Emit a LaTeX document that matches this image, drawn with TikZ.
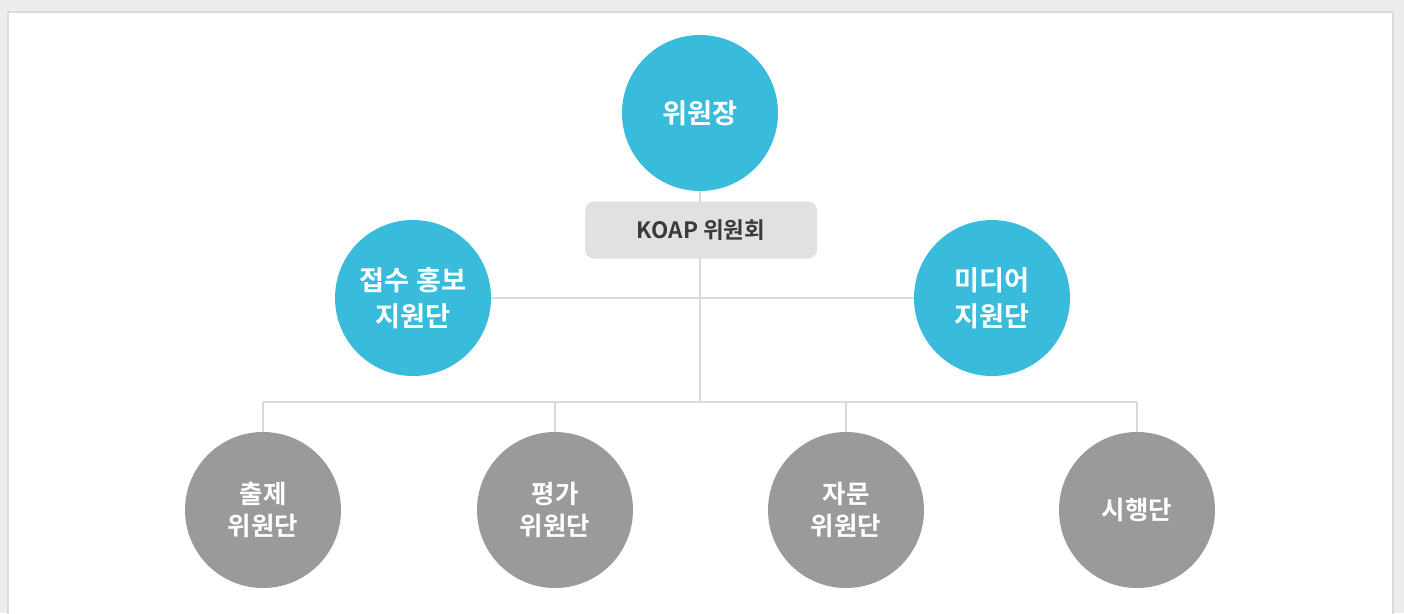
\documentclass[tikz,border=0pt]{standalone}
\usepackage{fontspec}
\setmainfont{Noto Sans CJK KR}[BoldFont={Noto Sans CJK KR Bold}]
\usepackage{tikz}

\definecolor{koapblue}{HTML}{39BCDC}
\definecolor{koapgray}{HTML}{9A9A9A}
\definecolor{koapbox}{HTML}{E1E1E1}
\definecolor{koapline}{HTML}{DADADA}
\definecolor{koaptext}{HTML}{3A3A3A}

\tikzset{
  bluecirc/.style={circle,fill=koapblue,minimum size=156*0.02cm,inner sep=0pt,
    text=white,font=\bfseries\fontsize{15.5}{20.5}\selectfont,align=center},
  graycirc/.style={circle,fill=koapgray,minimum size=156*0.02cm,inner sep=0pt,
    text=white,font=\bfseries\fontsize{14.5}{17.8}\selectfont,align=center},
  titlebox/.style={rectangle,rounded corners=5pt,fill=koapbox,minimum width=232*0.02cm,
    minimum height=57*0.02cm,text=koaptext,font=\bfseries\fontsize{12.8}{15}\selectfont},
  link/.style={draw=koapline,line width=1.2pt}
}

\begin{document}
\begin{tikzpicture}[x=0.02cm,y=-0.02cm]
\useasboundingbox (0,0) rectangle (1404,613);
% frame
\fill[black!7] (0,0) rectangle (1404,613);
\fill[white,draw=black!14,line width=0.8pt] (8,12) rectangle (1393,625);
% nodes
\node[bluecirc] (chair) at (700,113) {위원장};
\node[bluecirc] (promo) at (413,298) {접수 홍보\\지원단};
\node[bluecirc] (media) at (992,298) {미디어\\지원단};
\node[graycirc] (exam) at (263,510) {출제\\위원단};
\node[graycirc] (eval) at (555,510) {평가\\위원단};
\node[graycirc] (advice) at (846,510) {자문\\위원단};
\node[graycirc] (exec) at (1137,510) {시행단};
\coordinate (hub) at (700,402);
\coordinate (busl) at (263,402);
\coordinate (busr) at (1137,402);
% lines
\draw[link] (chair.south) -- (hub);
\draw[link] (promo.east) -- (media.west);
\draw[link] (busl) -- (busr);
\draw[link] (busl) -- (exam.north);
\draw[link] (eval.north |- hub) -- (eval.north);
\draw[link] (advice.north |- hub) -- (advice.north);
\draw[link] (busr) -- (exec.north);
% box on top of the line
\node[titlebox] (koap) at (701,230) {KOAP 위원회};
\end{tikzpicture}
\end{document}
